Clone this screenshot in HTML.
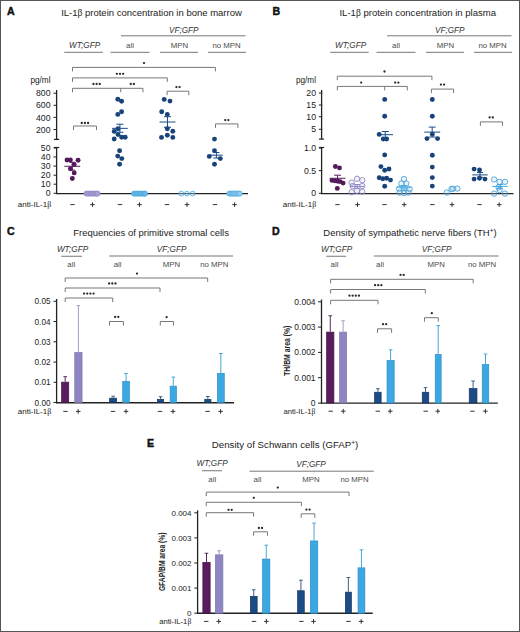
<!DOCTYPE html>
<html><head><meta charset="utf-8"><style>
html,body{margin:0;padding:0;background:#fff;}
.fig{position:relative;width:520px;height:632px;box-sizing:border-box;border:1px solid #555;overflow:hidden;background:#fff;}
svg{position:absolute;left:-1px;top:-1px;}
text{font-family:"Liberation Sans",sans-serif;}
</style></head><body><div class="fig">
<svg width="520" height="632" viewBox="0 0 520 632" shape-rendering="auto">
<text x="7.00" y="15.20" font-size="10.6" text-anchor="start" font-style="normal" font-weight="bold" fill="#111" stroke="#111" stroke-width="0.45">A</text>
<text x="151.50" y="16.00" font-size="9.5" text-anchor="middle" font-style="normal" font-weight="normal" fill="#222" >IL-1<tspan font-family='Liberation Serif'>β</tspan> protein concentration in bone marrow</text>
<text x="183.75" y="32.60" font-size="8.2" text-anchor="middle" font-style="italic" font-weight="normal" fill="#333" >VF;GFP</text>
<line x1="121.00" y1="35.80" x2="245.50" y2="35.80" stroke="#777" stroke-width="1"/>
<text x="84.60" y="48.40" font-size="8.2" text-anchor="middle" font-style="italic" font-weight="normal" fill="#333" >WT;GFP</text>
<text x="130.00" y="48.40" font-size="7.8" text-anchor="middle" font-style="normal" font-weight="normal" fill="#4a4a4a" >all</text>
<text x="179.40" y="48.40" font-size="7.8" text-anchor="middle" font-style="normal" font-weight="normal" fill="#4a4a4a" >MPN</text>
<text x="226.60" y="48.40" font-size="7.8" text-anchor="middle" font-style="normal" font-weight="normal" fill="#4a4a4a" >no MPN</text>
<line x1="64.20" y1="52.30" x2="102.70" y2="52.30" stroke="#777" stroke-width="1"/>
<line x1="110.50" y1="52.30" x2="149.50" y2="52.30" stroke="#777" stroke-width="1"/>
<line x1="160.00" y1="52.30" x2="198.00" y2="52.30" stroke="#777" stroke-width="1"/>
<line x1="208.00" y1="52.30" x2="246.00" y2="52.30" stroke="#777" stroke-width="1"/>
<text x="50.50" y="83.30" font-size="8.2" text-anchor="end" font-style="normal" font-weight="normal" fill="#222" >pg/ml</text>
<line x1="56.60" y1="90.00" x2="56.60" y2="139.40" stroke="#222" stroke-width="1.3"/>
<line x1="56.60" y1="147.40" x2="56.60" y2="193.90" stroke="#222" stroke-width="1.3"/>
<line x1="56.00" y1="193.60" x2="248.00" y2="193.60" stroke="#222" stroke-width="1.4"/>
<line x1="53.50" y1="93.25" x2="57.00" y2="93.25" stroke="#222" stroke-width="1"/>
<text x="50.50" y="96.35" font-size="8.7" text-anchor="end" font-style="normal" font-weight="normal" fill="#222" >800</text>
<line x1="53.50" y1="105.30" x2="57.00" y2="105.30" stroke="#222" stroke-width="1"/>
<text x="50.50" y="108.40" font-size="8.7" text-anchor="end" font-style="normal" font-weight="normal" fill="#222" >600</text>
<line x1="53.50" y1="117.40" x2="57.00" y2="117.40" stroke="#222" stroke-width="1"/>
<text x="50.50" y="120.50" font-size="8.7" text-anchor="end" font-style="normal" font-weight="normal" fill="#222" >400</text>
<line x1="53.50" y1="129.50" x2="57.00" y2="129.50" stroke="#222" stroke-width="1"/>
<text x="50.50" y="132.60" font-size="8.7" text-anchor="end" font-style="normal" font-weight="normal" fill="#222" >200</text>
<line x1="53.90" y1="139.40" x2="59.20" y2="139.40" stroke="#222" stroke-width="1.2"/>
<line x1="53.90" y1="147.50" x2="59.20" y2="147.50" stroke="#222" stroke-width="1.2"/>
<line x1="53.50" y1="148.00" x2="57.00" y2="148.00" stroke="#222" stroke-width="1"/>
<text x="50.50" y="151.10" font-size="8.7" text-anchor="end" font-style="normal" font-weight="normal" fill="#222" >50</text>
<line x1="53.50" y1="157.00" x2="57.00" y2="157.00" stroke="#222" stroke-width="1"/>
<text x="50.50" y="160.10" font-size="8.7" text-anchor="end" font-style="normal" font-weight="normal" fill="#222" >40</text>
<line x1="53.50" y1="166.10" x2="57.00" y2="166.10" stroke="#222" stroke-width="1"/>
<text x="50.50" y="169.20" font-size="8.7" text-anchor="end" font-style="normal" font-weight="normal" fill="#222" >30</text>
<line x1="53.50" y1="175.20" x2="57.00" y2="175.20" stroke="#222" stroke-width="1"/>
<text x="50.50" y="178.30" font-size="8.7" text-anchor="end" font-style="normal" font-weight="normal" fill="#222" >20</text>
<line x1="53.50" y1="184.20" x2="57.00" y2="184.20" stroke="#222" stroke-width="1"/>
<text x="50.50" y="187.30" font-size="8.7" text-anchor="end" font-style="normal" font-weight="normal" fill="#222" >10</text>
<line x1="53.50" y1="193.30" x2="57.00" y2="193.30" stroke="#222" stroke-width="1"/>
<text x="50.50" y="196.40" font-size="8.7" text-anchor="end" font-style="normal" font-weight="normal" fill="#222" >0</text>
<text x="51.30" y="207.10" font-size="8.0" text-anchor="end" font-style="normal" font-weight="normal" fill="#222" >anti-IL-1<tspan font-family='Liberation Serif'>β</tspan></text>
<line x1="70.30" y1="204.60" x2="74.70" y2="204.60" stroke="#333" stroke-width="1"/>
<line x1="117.80" y1="204.60" x2="122.20" y2="204.60" stroke="#333" stroke-width="1"/>
<line x1="164.80" y1="204.60" x2="169.20" y2="204.60" stroke="#333" stroke-width="1"/>
<line x1="212.80" y1="204.60" x2="217.20" y2="204.60" stroke="#333" stroke-width="1"/>
<path d="M90.20,204.60H94.80M92.50,202.30V206.90" stroke="#333" stroke-width="1" fill="none"/>
<path d="M137.20,204.60H141.80M139.50,202.30V206.90" stroke="#333" stroke-width="1" fill="none"/>
<path d="M184.70,204.60H189.30M187.00,202.30V206.90" stroke="#333" stroke-width="1" fill="none"/>
<path d="M232.30,204.60H236.90M234.60,202.30V206.90" stroke="#333" stroke-width="1" fill="none"/>
<path d="M72.50,71.40 V67.40 H215.40 V71.40" stroke="#777" stroke-width="1" fill="none"/>
<circle cx="144.00" cy="63.10" r="1.15" fill="#2a2a2a"/>
<path d="M72.50,81.90 V77.90 H167.30 V81.90" stroke="#777" stroke-width="1" fill="none"/>
<circle cx="116.85" cy="73.80" r="1.15" fill="#2a2a2a"/>
<circle cx="120.00" cy="73.80" r="1.15" fill="#2a2a2a"/>
<circle cx="123.15" cy="73.80" r="1.15" fill="#2a2a2a"/>
<path d="M72.50,92.30 V88.30 H143.00 V92.30" stroke="#777" stroke-width="1" fill="none"/>
<line x1="120.75" y1="88.30" x2="120.75" y2="92.30" stroke="#777" stroke-width="1"/>
<circle cx="93.45" cy="84.00" r="1.15" fill="#2a2a2a"/>
<circle cx="96.60" cy="84.00" r="1.15" fill="#2a2a2a"/>
<circle cx="99.75" cy="84.00" r="1.15" fill="#2a2a2a"/>
<circle cx="130.73" cy="84.00" r="1.15" fill="#2a2a2a"/>
<circle cx="133.88" cy="84.00" r="1.15" fill="#2a2a2a"/>
<path d="M73.50,130.00 V126.00 H96.50 V130.00" stroke="#777" stroke-width="1" fill="none"/>
<circle cx="81.75" cy="123.00" r="1.15" fill="#2a2a2a"/>
<circle cx="84.90" cy="123.00" r="1.15" fill="#2a2a2a"/>
<circle cx="88.05" cy="123.00" r="1.15" fill="#2a2a2a"/>
<path d="M167.10,95.20 V91.20 H188.80 V95.20" stroke="#777" stroke-width="1" fill="none"/>
<circle cx="176.43" cy="87.10" r="1.15" fill="#2a2a2a"/>
<circle cx="179.58" cy="87.10" r="1.15" fill="#2a2a2a"/>
<path d="M215.50,127.90 V123.90 H237.90 V127.90" stroke="#777" stroke-width="1" fill="none"/>
<circle cx="225.23" cy="120.10" r="1.15" fill="#2a2a2a"/>
<circle cx="228.38" cy="120.10" r="1.15" fill="#2a2a2a"/>
<circle cx="67.00" cy="160.00" r="2.45" fill="#54195a"/>
<circle cx="70.40" cy="160.00" r="2.45" fill="#54195a"/>
<circle cx="78.10" cy="160.20" r="2.45" fill="#54195a"/>
<circle cx="74.20" cy="164.50" r="2.45" fill="#54195a"/>
<circle cx="70.40" cy="168.80" r="2.45" fill="#54195a"/>
<circle cx="74.20" cy="172.90" r="2.45" fill="#54195a"/>
<circle cx="72.30" cy="178.50" r="2.45" fill="#54195a"/>
<line x1="64.30" y1="166.25" x2="80.20" y2="166.25" stroke="#5b1c5f" stroke-width="1"/>
<line x1="72.25" y1="162.30" x2="72.25" y2="170.20" stroke="#5b1c5f" stroke-width="1"/>
<line x1="69.25" y1="162.30" x2="75.25" y2="162.30" stroke="#5b1c5f" stroke-width="1"/>
<line x1="69.25" y1="170.20" x2="75.25" y2="170.20" stroke="#5b1c5f" stroke-width="1"/>
<circle cx="86.50" cy="193.60" r="2.6" fill="#a79fd3" stroke="#8a80c0" stroke-width="0.6"/>
<circle cx="88.50" cy="193.60" r="2.6" fill="#a79fd3" stroke="#8a80c0" stroke-width="0.6"/>
<circle cx="90.50" cy="193.60" r="2.6" fill="#a79fd3" stroke="#8a80c0" stroke-width="0.6"/>
<circle cx="92.50" cy="193.60" r="2.6" fill="#a79fd3" stroke="#8a80c0" stroke-width="0.6"/>
<circle cx="94.50" cy="193.60" r="2.6" fill="#a79fd3" stroke="#8a80c0" stroke-width="0.6"/>
<circle cx="96.50" cy="193.60" r="2.6" fill="#a79fd3" stroke="#8a80c0" stroke-width="0.6"/>
<circle cx="97.50" cy="193.60" r="2.6" fill="#a79fd3" stroke="#8a80c0" stroke-width="0.6"/>
<circle cx="117.80" cy="99.20" r="2.45" fill="#18437a"/>
<circle cx="121.60" cy="101.30" r="2.45" fill="#18437a"/>
<circle cx="121.60" cy="111.70" r="2.45" fill="#18437a"/>
<circle cx="117.80" cy="114.40" r="2.45" fill="#18437a"/>
<circle cx="118.00" cy="128.80" r="2.45" fill="#18437a"/>
<circle cx="114.20" cy="131.40" r="2.45" fill="#18437a"/>
<circle cx="118.00" cy="134.60" r="2.45" fill="#18437a"/>
<circle cx="121.70" cy="137.20" r="2.45" fill="#18437a"/>
<circle cx="125.20" cy="137.20" r="2.45" fill="#18437a"/>
<circle cx="114.20" cy="139.00" r="2.45" fill="#18437a"/>
<circle cx="119.60" cy="150.80" r="2.45" fill="#18437a"/>
<circle cx="117.70" cy="156.10" r="2.45" fill="#18437a"/>
<circle cx="121.80" cy="158.60" r="2.45" fill="#18437a"/>
<circle cx="119.60" cy="164.30" r="2.45" fill="#18437a"/>
<line x1="112.00" y1="128.35" x2="127.80" y2="128.35" stroke="#1b4c86" stroke-width="1"/>
<line x1="119.90" y1="124.20" x2="119.90" y2="132.30" stroke="#1b4c86" stroke-width="1"/>
<line x1="116.40" y1="124.20" x2="123.40" y2="124.20" stroke="#1b4c86" stroke-width="1"/>
<line x1="116.40" y1="132.30" x2="123.40" y2="132.30" stroke="#1b4c86" stroke-width="1"/>
<circle cx="134.00" cy="193.60" r="2.6" fill="#66b8e6" stroke="#3ba4dd" stroke-width="0.6"/>
<circle cx="136.00" cy="193.60" r="2.6" fill="#66b8e6" stroke="#3ba4dd" stroke-width="0.6"/>
<circle cx="138.00" cy="193.60" r="2.6" fill="#66b8e6" stroke="#3ba4dd" stroke-width="0.6"/>
<circle cx="140.00" cy="193.60" r="2.6" fill="#66b8e6" stroke="#3ba4dd" stroke-width="0.6"/>
<circle cx="142.00" cy="193.60" r="2.6" fill="#66b8e6" stroke="#3ba4dd" stroke-width="0.6"/>
<circle cx="144.00" cy="193.60" r="2.6" fill="#66b8e6" stroke="#3ba4dd" stroke-width="0.6"/>
<circle cx="145.00" cy="193.60" r="2.6" fill="#66b8e6" stroke="#3ba4dd" stroke-width="0.6"/>
<circle cx="164.20" cy="99.40" r="2.45" fill="#18437a"/>
<circle cx="170.00" cy="101.10" r="2.45" fill="#18437a"/>
<circle cx="161.70" cy="111.70" r="2.45" fill="#18437a"/>
<circle cx="167.30" cy="114.40" r="2.45" fill="#18437a"/>
<circle cx="167.30" cy="128.75" r="2.45" fill="#18437a"/>
<circle cx="172.80" cy="131.30" r="2.45" fill="#18437a"/>
<circle cx="167.30" cy="135.20" r="2.45" fill="#18437a"/>
<circle cx="161.50" cy="137.40" r="2.45" fill="#18437a"/>
<circle cx="172.80" cy="137.40" r="2.45" fill="#18437a"/>
<line x1="159.60" y1="122.00" x2="175.50" y2="122.00" stroke="#1b4c86" stroke-width="1"/>
<line x1="167.50" y1="116.70" x2="167.50" y2="127.30" stroke="#1b4c86" stroke-width="1"/>
<line x1="164.00" y1="116.70" x2="171.00" y2="116.70" stroke="#1b4c86" stroke-width="1"/>
<line x1="164.00" y1="127.30" x2="171.00" y2="127.30" stroke="#1b4c86" stroke-width="1"/>
<circle cx="181.30" cy="193.60" r="2.4" fill="rgba(200,230,250,0.35)" stroke="#3ca8e2" stroke-width="0.8"/>
<circle cx="186.90" cy="193.60" r="2.4" fill="rgba(200,230,250,0.35)" stroke="#3ca8e2" stroke-width="0.8"/>
<circle cx="192.70" cy="193.60" r="2.4" fill="rgba(200,230,250,0.35)" stroke="#3ca8e2" stroke-width="0.8"/>
<circle cx="214.50" cy="139.10" r="2.45" fill="#18437a"/>
<circle cx="214.50" cy="150.70" r="2.45" fill="#18437a"/>
<circle cx="209.30" cy="156.40" r="2.45" fill="#18437a"/>
<circle cx="220.30" cy="158.60" r="2.45" fill="#18437a"/>
<circle cx="214.50" cy="164.20" r="2.45" fill="#18437a"/>
<line x1="210.00" y1="155.20" x2="222.80" y2="155.20" stroke="#1b4c86" stroke-width="1"/>
<line x1="216.40" y1="152.50" x2="216.40" y2="158.00" stroke="#1b4c86" stroke-width="1"/>
<line x1="213.40" y1="152.50" x2="219.40" y2="152.50" stroke="#1b4c86" stroke-width="1"/>
<line x1="213.40" y1="158.00" x2="219.40" y2="158.00" stroke="#1b4c86" stroke-width="1"/>
<circle cx="229.30" cy="193.60" r="2.6" fill="#8fcdf0" stroke="#3d9ad6" stroke-width="0.5"/>
<circle cx="230.80" cy="193.60" r="2.6" fill="#8fcdf0" stroke="#3d9ad6" stroke-width="0.5"/>
<circle cx="232.30" cy="193.60" r="2.6" fill="#8fcdf0" stroke="#3d9ad6" stroke-width="0.5"/>
<circle cx="233.80" cy="193.60" r="2.6" fill="#8fcdf0" stroke="#3d9ad6" stroke-width="0.5"/>
<circle cx="235.30" cy="193.60" r="2.6" fill="#8fcdf0" stroke="#3d9ad6" stroke-width="0.5"/>
<circle cx="236.80" cy="193.60" r="2.6" fill="#8fcdf0" stroke="#3d9ad6" stroke-width="0.5"/>
<circle cx="238.30" cy="193.60" r="2.6" fill="#8fcdf0" stroke="#3d9ad6" stroke-width="0.5"/>
<circle cx="239.80" cy="193.60" r="2.6" fill="#8fcdf0" stroke="#3d9ad6" stroke-width="0.5"/>
<text x="272.50" y="15.20" font-size="10.6" text-anchor="start" font-style="normal" font-weight="bold" fill="#111" stroke="#111" stroke-width="0.45">B</text>
<text x="417.75" y="16.00" font-size="9.56" text-anchor="middle" font-style="normal" font-weight="normal" fill="#222" >IL-1<tspan font-family='Liberation Serif'>β</tspan> protein concentration in plasma</text>
<text x="449.75" y="32.60" font-size="8.2" text-anchor="middle" font-style="italic" font-weight="normal" fill="#333" >VF;GFP</text>
<line x1="387.00" y1="35.80" x2="511.50" y2="35.80" stroke="#777" stroke-width="1"/>
<text x="350.60" y="48.40" font-size="8.2" text-anchor="middle" font-style="italic" font-weight="normal" fill="#333" >WT;GFP</text>
<text x="396.00" y="48.40" font-size="7.8" text-anchor="middle" font-style="normal" font-weight="normal" fill="#4a4a4a" >all</text>
<text x="445.40" y="48.40" font-size="7.8" text-anchor="middle" font-style="normal" font-weight="normal" fill="#4a4a4a" >MPN</text>
<text x="492.60" y="48.40" font-size="7.8" text-anchor="middle" font-style="normal" font-weight="normal" fill="#4a4a4a" >no MPN</text>
<line x1="330.20" y1="52.30" x2="368.70" y2="52.30" stroke="#777" stroke-width="1"/>
<line x1="376.50" y1="52.30" x2="415.50" y2="52.30" stroke="#777" stroke-width="1"/>
<line x1="426.00" y1="52.30" x2="464.00" y2="52.30" stroke="#777" stroke-width="1"/>
<line x1="474.00" y1="52.30" x2="512.00" y2="52.30" stroke="#777" stroke-width="1"/>
<text x="316.00" y="83.30" font-size="8.2" text-anchor="end" font-style="normal" font-weight="normal" fill="#222" >pg/ml</text>
<line x1="321.60" y1="90.00" x2="321.60" y2="139.20" stroke="#222" stroke-width="1.3"/>
<line x1="321.60" y1="147.40" x2="321.60" y2="193.90" stroke="#222" stroke-width="1.3"/>
<line x1="321.00" y1="193.60" x2="513.50" y2="193.60" stroke="#222" stroke-width="1.4"/>
<line x1="318.80" y1="93.00" x2="322.30" y2="93.00" stroke="#222" stroke-width="1"/>
<text x="316.00" y="96.10" font-size="8.7" text-anchor="end" font-style="normal" font-weight="normal" fill="#222" >20</text>
<line x1="318.80" y1="105.00" x2="322.30" y2="105.00" stroke="#222" stroke-width="1"/>
<text x="316.00" y="108.10" font-size="8.7" text-anchor="end" font-style="normal" font-weight="normal" fill="#222" >15</text>
<line x1="318.80" y1="116.75" x2="322.30" y2="116.75" stroke="#222" stroke-width="1"/>
<text x="316.00" y="119.85" font-size="8.7" text-anchor="end" font-style="normal" font-weight="normal" fill="#222" >10</text>
<line x1="318.80" y1="129.25" x2="322.30" y2="129.25" stroke="#222" stroke-width="1"/>
<text x="316.00" y="132.35" font-size="8.7" text-anchor="end" font-style="normal" font-weight="normal" fill="#222" >5</text>
<line x1="319.00" y1="139.10" x2="324.10" y2="139.10" stroke="#222" stroke-width="1.2"/>
<line x1="319.00" y1="147.50" x2="324.10" y2="147.50" stroke="#222" stroke-width="1.2"/>
<line x1="318.80" y1="148.00" x2="322.30" y2="148.00" stroke="#222" stroke-width="1"/>
<text x="316.00" y="151.10" font-size="8.7" text-anchor="end" font-style="normal" font-weight="normal" fill="#222" >1.0</text>
<line x1="318.80" y1="170.60" x2="322.30" y2="170.60" stroke="#222" stroke-width="1"/>
<text x="316.00" y="173.70" font-size="8.7" text-anchor="end" font-style="normal" font-weight="normal" fill="#222" >0.5</text>
<line x1="318.80" y1="193.30" x2="322.30" y2="193.30" stroke="#222" stroke-width="1"/>
<text x="316.00" y="196.40" font-size="8.7" text-anchor="end" font-style="normal" font-weight="normal" fill="#222" >0</text>
<text x="316.30" y="207.10" font-size="8.0" text-anchor="end" font-style="normal" font-weight="normal" fill="#222" >anti-IL-1<tspan font-family='Liberation Serif'>β</tspan></text>
<line x1="335.30" y1="204.60" x2="339.70" y2="204.60" stroke="#333" stroke-width="1"/>
<line x1="382.30" y1="204.60" x2="386.70" y2="204.60" stroke="#333" stroke-width="1"/>
<line x1="430.10" y1="204.60" x2="434.50" y2="204.60" stroke="#333" stroke-width="1"/>
<line x1="477.30" y1="204.60" x2="481.70" y2="204.60" stroke="#333" stroke-width="1"/>
<path d="M355.20,204.60H359.80M357.50,202.30V206.90" stroke="#333" stroke-width="1" fill="none"/>
<path d="M401.90,204.60H406.50M404.20,202.30V206.90" stroke="#333" stroke-width="1" fill="none"/>
<path d="M449.70,204.60H454.30M452.00,202.30V206.90" stroke="#333" stroke-width="1" fill="none"/>
<path d="M496.90,204.60H501.50M499.20,202.30V206.90" stroke="#333" stroke-width="1" fill="none"/>
<path d="M337.30,80.20 V76.20 H431.90 V80.20" stroke="#777" stroke-width="1" fill="none"/>
<circle cx="384.50" cy="71.50" r="1.15" fill="#2a2a2a"/>
<path d="M337.30,90.40 V86.40 H407.30 V90.40" stroke="#777" stroke-width="1" fill="none"/>
<line x1="384.70" y1="86.40" x2="384.70" y2="90.40" stroke="#777" stroke-width="1"/>
<circle cx="361.20" cy="82.60" r="1.15" fill="#2a2a2a"/>
<circle cx="395.23" cy="82.60" r="1.15" fill="#2a2a2a"/>
<circle cx="398.38" cy="82.60" r="1.15" fill="#2a2a2a"/>
<path d="M431.40,93.10 V89.10 H453.60 V93.10" stroke="#777" stroke-width="1" fill="none"/>
<circle cx="440.93" cy="84.60" r="1.15" fill="#2a2a2a"/>
<circle cx="444.07" cy="84.60" r="1.15" fill="#2a2a2a"/>
<path d="M480.40,125.90 V121.90 H502.50 V125.90" stroke="#777" stroke-width="1" fill="none"/>
<circle cx="489.62" cy="117.40" r="1.15" fill="#2a2a2a"/>
<circle cx="492.77" cy="117.40" r="1.15" fill="#2a2a2a"/>
<circle cx="335.40" cy="166.50" r="2.45" fill="#54195a"/>
<circle cx="339.50" cy="167.90" r="2.45" fill="#54195a"/>
<circle cx="332.00" cy="180.40" r="2.45" fill="#54195a"/>
<circle cx="334.90" cy="180.70" r="2.45" fill="#54195a"/>
<circle cx="337.80" cy="181.20" r="2.45" fill="#54195a"/>
<circle cx="340.20" cy="181.60" r="2.45" fill="#54195a"/>
<circle cx="343.10" cy="183.10" r="2.45" fill="#54195a"/>
<circle cx="337.30" cy="188.40" r="2.45" fill="#54195a"/>
<line x1="329.60" y1="178.30" x2="345.50" y2="178.30" stroke="#5b1c5f" stroke-width="1"/>
<line x1="337.55" y1="175.20" x2="337.55" y2="181.40" stroke="#5b1c5f" stroke-width="1"/>
<line x1="334.05" y1="175.20" x2="341.05" y2="175.20" stroke="#5b1c5f" stroke-width="1"/>
<line x1="334.05" y1="181.40" x2="341.05" y2="181.40" stroke="#5b1c5f" stroke-width="1"/>
<circle cx="351.70" cy="182.60" r="2.7" fill="rgba(200,195,235,0.2)" stroke="#8a84c2" stroke-width="0.85"/>
<circle cx="357.00" cy="178.75" r="2.7" fill="rgba(200,195,235,0.2)" stroke="#8a84c2" stroke-width="0.85"/>
<circle cx="362.30" cy="180.20" r="2.7" fill="rgba(200,195,235,0.2)" stroke="#8a84c2" stroke-width="0.85"/>
<circle cx="352.70" cy="186.00" r="2.7" fill="rgba(200,195,235,0.2)" stroke="#8a84c2" stroke-width="0.85"/>
<circle cx="362.30" cy="186.00" r="2.7" fill="rgba(200,195,235,0.2)" stroke="#8a84c2" stroke-width="0.85"/>
<circle cx="357.00" cy="190.80" r="2.7" fill="rgba(200,195,235,0.2)" stroke="#8a84c2" stroke-width="0.85"/>
<circle cx="351.70" cy="192.20" r="2.7" fill="rgba(200,195,235,0.2)" stroke="#8a84c2" stroke-width="0.85"/>
<circle cx="362.30" cy="191.70" r="2.7" fill="rgba(200,195,235,0.2)" stroke="#8a84c2" stroke-width="0.85"/>
<line x1="350.00" y1="186.40" x2="364.50" y2="186.40" stroke="#8e86c4" stroke-width="1"/>
<line x1="357.25" y1="184.50" x2="357.25" y2="188.30" stroke="#8e86c4" stroke-width="1"/>
<line x1="354.25" y1="184.50" x2="360.25" y2="184.50" stroke="#8e86c4" stroke-width="1"/>
<line x1="354.25" y1="188.30" x2="360.25" y2="188.30" stroke="#8e86c4" stroke-width="1"/>
<circle cx="384.70" cy="99.40" r="2.45" fill="#18437a"/>
<circle cx="384.70" cy="116.20" r="2.45" fill="#18437a"/>
<circle cx="379.20" cy="134.40" r="2.45" fill="#18437a"/>
<circle cx="383.30" cy="139.00" r="2.45" fill="#18437a"/>
<circle cx="386.60" cy="139.00" r="2.45" fill="#18437a"/>
<circle cx="384.70" cy="154.90" r="2.45" fill="#18437a"/>
<circle cx="380.90" cy="166.60" r="2.45" fill="#18437a"/>
<circle cx="384.70" cy="170.20" r="2.45" fill="#18437a"/>
<circle cx="389.00" cy="169.00" r="2.45" fill="#18437a"/>
<circle cx="379.20" cy="177.70" r="2.45" fill="#18437a"/>
<circle cx="382.80" cy="178.80" r="2.45" fill="#18437a"/>
<circle cx="386.60" cy="178.20" r="2.45" fill="#18437a"/>
<circle cx="390.50" cy="180.10" r="2.45" fill="#18437a"/>
<circle cx="384.70" cy="186.30" r="2.45" fill="#18437a"/>
<line x1="377.50" y1="134.70" x2="393.00" y2="134.70" stroke="#1b4c86" stroke-width="1"/>
<line x1="385.25" y1="131.50" x2="385.25" y2="137.90" stroke="#1b4c86" stroke-width="1"/>
<line x1="381.75" y1="131.50" x2="388.75" y2="131.50" stroke="#1b4c86" stroke-width="1"/>
<line x1="381.75" y1="137.90" x2="388.75" y2="137.90" stroke="#1b4c86" stroke-width="1"/>
<circle cx="403.90" cy="179.10" r="2.7" fill="rgba(150,210,245,0.22)" stroke="#4a9dd2" stroke-width="0.85"/>
<circle cx="401.50" cy="183.50" r="2.7" fill="rgba(150,210,245,0.22)" stroke="#4a9dd2" stroke-width="0.85"/>
<circle cx="406.30" cy="183.50" r="2.7" fill="rgba(150,210,245,0.22)" stroke="#4a9dd2" stroke-width="0.85"/>
<circle cx="399.10" cy="188.75" r="2.7" fill="rgba(150,210,245,0.22)" stroke="#4a9dd2" stroke-width="0.85"/>
<circle cx="403.90" cy="188.30" r="2.7" fill="rgba(150,210,245,0.22)" stroke="#4a9dd2" stroke-width="0.85"/>
<circle cx="409.70" cy="189.20" r="2.7" fill="rgba(150,210,245,0.22)" stroke="#4a9dd2" stroke-width="0.85"/>
<circle cx="399.60" cy="192.60" r="2.7" fill="rgba(150,210,245,0.22)" stroke="#4a9dd2" stroke-width="0.85"/>
<circle cx="403.90" cy="193.10" r="2.7" fill="rgba(150,210,245,0.22)" stroke="#4a9dd2" stroke-width="0.85"/>
<circle cx="408.30" cy="192.60" r="2.7" fill="rgba(150,210,245,0.22)" stroke="#4a9dd2" stroke-width="0.85"/>
<line x1="397.00" y1="187.20" x2="411.00" y2="187.20" stroke="#3ca8e2" stroke-width="1"/>
<line x1="404.00" y1="185.50" x2="404.00" y2="189.00" stroke="#3ca8e2" stroke-width="1"/>
<line x1="401.00" y1="185.50" x2="407.00" y2="185.50" stroke="#3ca8e2" stroke-width="1"/>
<line x1="401.00" y1="189.00" x2="407.00" y2="189.00" stroke="#3ca8e2" stroke-width="1"/>
<circle cx="432.30" cy="99.50" r="2.45" fill="#18437a"/>
<circle cx="432.30" cy="116.30" r="2.45" fill="#18437a"/>
<circle cx="432.30" cy="134.25" r="2.45" fill="#18437a"/>
<circle cx="427.00" cy="138.60" r="2.45" fill="#18437a"/>
<circle cx="437.60" cy="138.60" r="2.45" fill="#18437a"/>
<circle cx="432.30" cy="155.20" r="2.45" fill="#18437a"/>
<circle cx="432.30" cy="167.10" r="2.45" fill="#18437a"/>
<circle cx="432.30" cy="177.60" r="2.45" fill="#18437a"/>
<circle cx="432.30" cy="186.10" r="2.45" fill="#18437a"/>
<line x1="424.20" y1="132.10" x2="440.20" y2="132.10" stroke="#1b4c86" stroke-width="1"/>
<line x1="432.20" y1="127.10" x2="432.20" y2="137.00" stroke="#1b4c86" stroke-width="1"/>
<line x1="428.70" y1="127.10" x2="435.70" y2="127.10" stroke="#1b4c86" stroke-width="1"/>
<line x1="428.70" y1="137.00" x2="435.70" y2="137.00" stroke="#1b4c86" stroke-width="1"/>
<circle cx="446.80" cy="192.60" r="2.7" fill="rgba(150,210,245,0.22)" stroke="#4a9dd2" stroke-width="0.85"/>
<circle cx="451.50" cy="189.00" r="2.7" fill="rgba(150,210,245,0.22)" stroke="#4a9dd2" stroke-width="0.85"/>
<circle cx="453.10" cy="188.70" r="2.7" fill="rgba(150,210,245,0.22)" stroke="#4a9dd2" stroke-width="0.85"/>
<circle cx="457.40" cy="188.50" r="2.7" fill="rgba(150,210,245,0.22)" stroke="#4a9dd2" stroke-width="0.85"/>
<circle cx="474.10" cy="169.10" r="2.45" fill="#18437a"/>
<circle cx="479.50" cy="170.00" r="2.45" fill="#18437a"/>
<circle cx="474.10" cy="179.10" r="2.45" fill="#18437a"/>
<circle cx="479.50" cy="178.20" r="2.45" fill="#18437a"/>
<circle cx="485.00" cy="179.10" r="2.45" fill="#18437a"/>
<line x1="472.30" y1="174.90" x2="487.70" y2="174.90" stroke="#1b4c86" stroke-width="1"/>
<line x1="480.00" y1="172.50" x2="480.00" y2="177.30" stroke="#1b4c86" stroke-width="1"/>
<line x1="477.00" y1="172.50" x2="483.00" y2="172.50" stroke="#1b4c86" stroke-width="1"/>
<line x1="477.00" y1="177.30" x2="483.00" y2="177.30" stroke="#1b4c86" stroke-width="1"/>
<circle cx="494.10" cy="179.50" r="2.7" fill="rgba(150,210,245,0.22)" stroke="#4a9dd2" stroke-width="0.85"/>
<circle cx="499.50" cy="181.80" r="2.7" fill="rgba(150,210,245,0.22)" stroke="#4a9dd2" stroke-width="0.85"/>
<circle cx="505.00" cy="181.80" r="2.7" fill="rgba(150,210,245,0.22)" stroke="#4a9dd2" stroke-width="0.85"/>
<circle cx="498.60" cy="187.30" r="2.7" fill="rgba(150,210,245,0.22)" stroke="#4a9dd2" stroke-width="0.85"/>
<circle cx="494.10" cy="193.60" r="2.7" fill="rgba(150,210,245,0.22)" stroke="#4a9dd2" stroke-width="0.85"/>
<circle cx="505.00" cy="193.60" r="2.7" fill="rgba(150,210,245,0.22)" stroke="#4a9dd2" stroke-width="0.85"/>
<circle cx="499.50" cy="190.00" r="2.7" fill="rgba(150,210,245,0.22)" stroke="#4a9dd2" stroke-width="0.85"/>
<line x1="492.30" y1="186.40" x2="507.70" y2="186.40" stroke="#3ca8e2" stroke-width="1"/>
<line x1="500.00" y1="184.50" x2="500.00" y2="188.30" stroke="#3ca8e2" stroke-width="1"/>
<line x1="497.00" y1="184.50" x2="503.00" y2="184.50" stroke="#3ca8e2" stroke-width="1"/>
<line x1="497.00" y1="188.30" x2="503.00" y2="188.30" stroke="#3ca8e2" stroke-width="1"/>
<text x="7.00" y="234.80" font-size="10.6" text-anchor="start" font-style="normal" font-weight="bold" fill="#111" stroke="#111" stroke-width="0.45">C</text>
<text x="151.10" y="235.50" font-size="9.47" text-anchor="middle" font-style="normal" font-weight="normal" fill="#222" >Frequencies of primitive stromal cells</text>
<text x="72.50" y="251.60" font-size="8.2" text-anchor="middle" font-style="italic" font-weight="normal" fill="#333" >WT;GFP</text>
<line x1="61.25" y1="256.25" x2="82.00" y2="256.25" stroke="#777" stroke-width="1"/>
<text x="171.65" y="251.60" font-size="8.2" text-anchor="middle" font-style="italic" font-weight="normal" fill="#333" >VF;GFP</text>
<line x1="109.20" y1="256.00" x2="233.20" y2="256.00" stroke="#777" stroke-width="1"/>
<text x="71.25" y="267.00" font-size="7.8" text-anchor="middle" font-style="normal" font-weight="normal" fill="#4a4a4a" >all</text>
<text x="117.70" y="267.00" font-size="7.8" text-anchor="middle" font-style="normal" font-weight="normal" fill="#4a4a4a" >all</text>
<text x="171.50" y="267.00" font-size="7.8" text-anchor="middle" font-style="normal" font-weight="normal" fill="#4a4a4a" >MPN</text>
<text x="214.30" y="267.00" font-size="7.8" text-anchor="middle" font-style="normal" font-weight="normal" fill="#4a4a4a" >no MPN</text>
<line x1="56.60" y1="299.00" x2="56.60" y2="403.30" stroke="#222" stroke-width="1.3"/>
<line x1="56.00" y1="402.80" x2="234.00" y2="402.80" stroke="#222" stroke-width="1.4"/>
<line x1="53.50" y1="301.30" x2="57.00" y2="301.30" stroke="#222" stroke-width="1"/>
<text x="50.50" y="304.30" font-size="8.2" text-anchor="end" font-style="normal" font-weight="normal" fill="#222" >0.05</text>
<line x1="53.50" y1="321.50" x2="57.00" y2="321.50" stroke="#222" stroke-width="1"/>
<text x="50.50" y="324.50" font-size="8.2" text-anchor="end" font-style="normal" font-weight="normal" fill="#222" >0.04</text>
<line x1="53.50" y1="341.80" x2="57.00" y2="341.80" stroke="#222" stroke-width="1"/>
<text x="50.50" y="344.80" font-size="8.2" text-anchor="end" font-style="normal" font-weight="normal" fill="#222" >0.03</text>
<line x1="53.50" y1="362.10" x2="57.00" y2="362.10" stroke="#222" stroke-width="1"/>
<text x="50.50" y="365.10" font-size="8.2" text-anchor="end" font-style="normal" font-weight="normal" fill="#222" >0.02</text>
<line x1="53.50" y1="382.30" x2="57.00" y2="382.30" stroke="#222" stroke-width="1"/>
<text x="50.50" y="385.30" font-size="8.2" text-anchor="end" font-style="normal" font-weight="normal" fill="#222" >0.01</text>
<line x1="53.50" y1="402.50" x2="57.00" y2="402.50" stroke="#222" stroke-width="1"/>
<text x="50.50" y="405.50" font-size="8.2" text-anchor="end" font-style="normal" font-weight="normal" fill="#222" >0.00</text>
<text x="51.30" y="413.80" font-size="8.0" text-anchor="end" font-style="normal" font-weight="normal" fill="#222" >anti-IL-1<tspan font-family='Liberation Serif'>β</tspan></text>
<line x1="63.30" y1="411.40" x2="67.70" y2="411.40" stroke="#333" stroke-width="1"/>
<line x1="110.80" y1="411.40" x2="115.20" y2="411.40" stroke="#333" stroke-width="1"/>
<line x1="157.80" y1="411.40" x2="162.20" y2="411.40" stroke="#333" stroke-width="1"/>
<line x1="205.40" y1="411.40" x2="209.80" y2="411.40" stroke="#333" stroke-width="1"/>
<path d="M75.90,411.40H80.50M78.20,409.10V413.70" stroke="#333" stroke-width="1" fill="none"/>
<path d="M123.70,411.40H128.30M126.00,409.10V413.70" stroke="#333" stroke-width="1" fill="none"/>
<path d="M170.70,411.40H175.30M173.00,409.10V413.70" stroke="#333" stroke-width="1" fill="none"/>
<path d="M218.30,411.40H222.90M220.60,409.10V413.70" stroke="#333" stroke-width="1" fill="none"/>
<path d="M65.20,282.00 V278.00 H207.70 V282.00" stroke="#777" stroke-width="1" fill="none"/>
<circle cx="137.00" cy="273.60" r="1.15" fill="#2a2a2a"/>
<path d="M65.20,292.00 V288.00 H160.00 V292.00" stroke="#777" stroke-width="1" fill="none"/>
<circle cx="109.15" cy="283.50" r="1.15" fill="#2a2a2a"/>
<circle cx="112.30" cy="283.50" r="1.15" fill="#2a2a2a"/>
<circle cx="115.45" cy="283.50" r="1.15" fill="#2a2a2a"/>
<path d="M65.20,302.00 V298.00 H112.70 V302.00" stroke="#777" stroke-width="1" fill="none"/>
<circle cx="84.08" cy="293.60" r="1.15" fill="#2a2a2a"/>
<circle cx="87.23" cy="293.60" r="1.15" fill="#2a2a2a"/>
<circle cx="90.38" cy="293.60" r="1.15" fill="#2a2a2a"/>
<circle cx="93.53" cy="293.60" r="1.15" fill="#2a2a2a"/>
<path d="M109.50,325.50 V321.50 H123.40 V325.50" stroke="#777" stroke-width="1" fill="none"/>
<circle cx="115.12" cy="316.90" r="1.15" fill="#2a2a2a"/>
<circle cx="118.28" cy="316.90" r="1.15" fill="#2a2a2a"/>
<path d="M160.30,325.50 V321.50 H173.50 V325.50" stroke="#777" stroke-width="1" fill="none"/>
<circle cx="166.60" cy="317.20" r="1.15" fill="#2a2a2a"/>
<line x1="65.17" y1="376.70" x2="65.17" y2="381.80" stroke="#56275b" stroke-width="1"/>
<line x1="63.38" y1="376.70" x2="66.97" y2="376.70" stroke="#56275b" stroke-width="1"/>
<rect x="61.60" y="382.15" width="7.15" height="20.35" fill="#5b1c5f" stroke="#3f1846" stroke-width="0.7"/>
<line x1="78.40" y1="305.60" x2="78.40" y2="352.20" stroke="#a29ecb" stroke-width="1"/>
<line x1="76.60" y1="305.60" x2="80.20" y2="305.60" stroke="#a29ecb" stroke-width="1"/>
<rect x="74.75" y="352.55" width="7.30" height="49.95" fill="#8e86c4" stroke="#7d7aa6" stroke-width="0.7"/>
<line x1="113.10" y1="396.20" x2="113.10" y2="397.80" stroke="#3f5f88" stroke-width="1"/>
<line x1="111.30" y1="396.20" x2="114.90" y2="396.20" stroke="#3f5f88" stroke-width="1"/>
<rect x="109.65" y="398.15" width="6.90" height="4.35" fill="#1b4c86" stroke="#12345f" stroke-width="0.7"/>
<line x1="126.05" y1="373.50" x2="126.05" y2="381.00" stroke="#45a6dc" stroke-width="1"/>
<line x1="124.25" y1="373.50" x2="127.85" y2="373.50" stroke="#45a6dc" stroke-width="1"/>
<rect x="122.75" y="381.35" width="6.60" height="21.15" fill="#3ca8e2" stroke="#2e8cc4" stroke-width="0.7"/>
<line x1="160.55" y1="396.70" x2="160.55" y2="399.00" stroke="#3f5f88" stroke-width="1"/>
<line x1="158.75" y1="396.70" x2="162.35" y2="396.70" stroke="#3f5f88" stroke-width="1"/>
<rect x="157.45" y="399.35" width="6.20" height="3.15" fill="#1b4c86" stroke="#12345f" stroke-width="0.7"/>
<line x1="173.25" y1="377.10" x2="173.25" y2="385.80" stroke="#45a6dc" stroke-width="1"/>
<line x1="171.45" y1="377.10" x2="175.05" y2="377.10" stroke="#45a6dc" stroke-width="1"/>
<rect x="170.15" y="386.15" width="6.20" height="16.35" fill="#3ca8e2" stroke="#2e8cc4" stroke-width="0.7"/>
<line x1="207.85" y1="396.50" x2="207.85" y2="399.00" stroke="#3f5f88" stroke-width="1"/>
<line x1="206.05" y1="396.50" x2="209.65" y2="396.50" stroke="#3f5f88" stroke-width="1"/>
<rect x="204.75" y="399.35" width="6.20" height="3.15" fill="#1b4c86" stroke="#12345f" stroke-width="0.7"/>
<line x1="220.85" y1="353.50" x2="220.85" y2="373.00" stroke="#45a6dc" stroke-width="1"/>
<line x1="219.05" y1="353.50" x2="222.65" y2="353.50" stroke="#45a6dc" stroke-width="1"/>
<rect x="217.45" y="373.35" width="6.80" height="29.15" fill="#3ca8e2" stroke="#2e8cc4" stroke-width="0.7"/>
<text x="272.00" y="234.80" font-size="10.6" text-anchor="start" font-style="normal" font-weight="bold" fill="#111" stroke="#111" stroke-width="0.45">D</text>
<text x="410.00" y="235.50" font-size="9.5" text-anchor="middle" font-style="normal" font-weight="normal" fill="#222" >Density of sympathetic nerve fibers (TH<tspan dy='-3' font-size='6.5'>+</tspan><tspan dy='3'>)</tspan></text>
<text x="336.60" y="251.60" font-size="8.2" text-anchor="middle" font-style="italic" font-weight="normal" fill="#333" >WT;GFP</text>
<line x1="326.25" y1="256.25" x2="346.25" y2="256.25" stroke="#777" stroke-width="1"/>
<text x="436.65" y="251.60" font-size="8.2" text-anchor="middle" font-style="italic" font-weight="normal" fill="#333" >VF;GFP</text>
<line x1="373.80" y1="256.00" x2="498.50" y2="256.00" stroke="#777" stroke-width="1"/>
<text x="334.50" y="267.00" font-size="7.8" text-anchor="middle" font-style="normal" font-weight="normal" fill="#4a4a4a" >all</text>
<text x="380.00" y="267.00" font-size="7.8" text-anchor="middle" font-style="normal" font-weight="normal" fill="#4a4a4a" >all</text>
<text x="436.20" y="267.00" font-size="7.8" text-anchor="middle" font-style="normal" font-weight="normal" fill="#4a4a4a" >MPN</text>
<text x="482.00" y="267.00" font-size="7.8" text-anchor="middle" font-style="normal" font-weight="normal" fill="#4a4a4a" >no MPN</text>
<line x1="321.50" y1="299.50" x2="321.50" y2="403.70" stroke="#222" stroke-width="1.3"/>
<line x1="320.90" y1="403.10" x2="497.80" y2="403.10" stroke="#222" stroke-width="1.4"/>
<line x1="318.00" y1="301.80" x2="321.50" y2="301.80" stroke="#222" stroke-width="1"/>
<text x="315.60" y="304.80" font-size="8.5" text-anchor="end" font-style="normal" font-weight="normal" fill="#222" >0.004</text>
<line x1="318.00" y1="327.10" x2="321.50" y2="327.10" stroke="#222" stroke-width="1"/>
<text x="315.60" y="330.10" font-size="8.5" text-anchor="end" font-style="normal" font-weight="normal" fill="#222" >0.003</text>
<line x1="318.00" y1="352.40" x2="321.50" y2="352.40" stroke="#222" stroke-width="1"/>
<text x="315.60" y="355.40" font-size="8.5" text-anchor="end" font-style="normal" font-weight="normal" fill="#222" >0.002</text>
<line x1="318.00" y1="377.70" x2="321.50" y2="377.70" stroke="#222" stroke-width="1"/>
<text x="315.60" y="380.70" font-size="8.5" text-anchor="end" font-style="normal" font-weight="normal" fill="#222" >0.001</text>
<line x1="318.00" y1="403.10" x2="321.50" y2="403.10" stroke="#222" stroke-width="1"/>
<text x="315.60" y="406.10" font-size="8.5" text-anchor="end" font-style="normal" font-weight="normal" fill="#222" >0</text>
<text x="0" y="0" font-size="8.8" font-weight="bold" text-anchor="middle" fill="#222" textLength="59" lengthAdjust="spacingAndGlyphs" transform="translate(289.7 350.8) rotate(-90) scale(0.85 1)">TH/BM area (%)</text>
<text x="315.50" y="413.80" font-size="7.7" text-anchor="end" font-style="normal" font-weight="normal" fill="#222" >anti-IL-1<tspan font-family='Liberation Serif'>β</tspan></text>
<line x1="328.55" y1="411.20" x2="332.95" y2="411.20" stroke="#333" stroke-width="1"/>
<line x1="375.60" y1="411.20" x2="380.00" y2="411.20" stroke="#333" stroke-width="1"/>
<line x1="423.50" y1="411.20" x2="427.90" y2="411.20" stroke="#333" stroke-width="1"/>
<line x1="470.20" y1="411.20" x2="474.60" y2="411.20" stroke="#333" stroke-width="1"/>
<path d="M340.95,411.20H345.55M343.25,408.90V413.50" stroke="#333" stroke-width="1" fill="none"/>
<path d="M387.90,411.20H392.50M390.20,408.90V413.50" stroke="#333" stroke-width="1" fill="none"/>
<path d="M435.50,411.20H440.10M437.80,408.90V413.50" stroke="#333" stroke-width="1" fill="none"/>
<path d="M483.10,411.20H487.70M485.40,408.90V413.50" stroke="#333" stroke-width="1" fill="none"/>
<path d="M330.60,283.30 V279.30 H473.20 V283.30" stroke="#777" stroke-width="1" fill="none"/>
<circle cx="400.53" cy="274.90" r="1.15" fill="#2a2a2a"/>
<circle cx="403.68" cy="274.90" r="1.15" fill="#2a2a2a"/>
<path d="M330.60,293.50 V289.50 H425.30 V293.50" stroke="#777" stroke-width="1" fill="none"/>
<circle cx="375.05" cy="285.20" r="1.15" fill="#2a2a2a"/>
<circle cx="378.20" cy="285.20" r="1.15" fill="#2a2a2a"/>
<circle cx="381.35" cy="285.20" r="1.15" fill="#2a2a2a"/>
<path d="M330.60,304.30 V300.30 H378.00 V304.30" stroke="#777" stroke-width="1" fill="none"/>
<circle cx="349.47" cy="295.70" r="1.15" fill="#2a2a2a"/>
<circle cx="352.62" cy="295.70" r="1.15" fill="#2a2a2a"/>
<circle cx="355.77" cy="295.70" r="1.15" fill="#2a2a2a"/>
<circle cx="358.92" cy="295.70" r="1.15" fill="#2a2a2a"/>
<path d="M377.50,332.80 V328.80 H391.60 V332.80" stroke="#777" stroke-width="1" fill="none"/>
<circle cx="383.03" cy="324.20" r="1.15" fill="#2a2a2a"/>
<circle cx="386.18" cy="324.20" r="1.15" fill="#2a2a2a"/>
<path d="M424.50,321.70 V317.70 H438.30 V321.70" stroke="#777" stroke-width="1" fill="none"/>
<circle cx="431.80" cy="313.20" r="1.15" fill="#2a2a2a"/>
<line x1="330.25" y1="315.75" x2="330.25" y2="331.75" stroke="#56275b" stroke-width="1"/>
<line x1="328.45" y1="315.75" x2="332.05" y2="315.75" stroke="#56275b" stroke-width="1"/>
<rect x="326.60" y="332.10" width="7.30" height="70.90" fill="#5b1c5f" stroke="#3f1846" stroke-width="0.7"/>
<line x1="343.12" y1="320.75" x2="343.12" y2="331.75" stroke="#a29ecb" stroke-width="1"/>
<line x1="341.32" y1="320.75" x2="344.93" y2="320.75" stroke="#a29ecb" stroke-width="1"/>
<rect x="339.60" y="332.10" width="7.05" height="70.90" fill="#8e86c4" stroke="#7d7aa6" stroke-width="0.7"/>
<line x1="377.90" y1="388.70" x2="377.90" y2="391.90" stroke="#3f5f88" stroke-width="1"/>
<line x1="376.10" y1="388.70" x2="379.70" y2="388.70" stroke="#3f5f88" stroke-width="1"/>
<rect x="374.65" y="392.25" width="6.50" height="10.75" fill="#1b4c86" stroke="#12345f" stroke-width="0.7"/>
<line x1="390.60" y1="349.80" x2="390.60" y2="360.20" stroke="#45a6dc" stroke-width="1"/>
<line x1="388.80" y1="349.80" x2="392.40" y2="349.80" stroke="#45a6dc" stroke-width="1"/>
<rect x="387.05" y="360.55" width="7.10" height="42.45" fill="#3ca8e2" stroke="#2e8cc4" stroke-width="0.7"/>
<line x1="425.50" y1="387.60" x2="425.50" y2="391.90" stroke="#3f5f88" stroke-width="1"/>
<line x1="423.70" y1="387.60" x2="427.30" y2="387.60" stroke="#3f5f88" stroke-width="1"/>
<rect x="422.25" y="392.25" width="6.50" height="10.75" fill="#1b4c86" stroke="#12345f" stroke-width="0.7"/>
<line x1="438.20" y1="325.60" x2="438.20" y2="354.10" stroke="#45a6dc" stroke-width="1"/>
<line x1="436.40" y1="325.60" x2="440.00" y2="325.60" stroke="#45a6dc" stroke-width="1"/>
<rect x="435.25" y="354.45" width="5.90" height="48.55" fill="#3ca8e2" stroke="#2e8cc4" stroke-width="0.7"/>
<line x1="473.10" y1="381.00" x2="473.10" y2="388.20" stroke="#3f5f88" stroke-width="1"/>
<line x1="471.30" y1="381.00" x2="474.90" y2="381.00" stroke="#3f5f88" stroke-width="1"/>
<rect x="469.25" y="388.55" width="7.70" height="14.45" fill="#1b4c86" stroke="#12345f" stroke-width="0.7"/>
<line x1="485.50" y1="354.10" x2="485.50" y2="364.20" stroke="#45a6dc" stroke-width="1"/>
<line x1="483.70" y1="354.10" x2="487.30" y2="354.10" stroke="#45a6dc" stroke-width="1"/>
<rect x="482.25" y="364.55" width="6.50" height="38.45" fill="#3ca8e2" stroke="#2e8cc4" stroke-width="0.7"/>
<text x="147.00" y="446.90" font-size="10.6" text-anchor="start" font-style="normal" font-weight="bold" fill="#111" stroke="#111" stroke-width="0.45">E</text>
<text x="285.10" y="447.80" font-size="9.7" text-anchor="middle" font-style="normal" font-weight="normal" fill="#222" >Density of Schwann cells (GFAP<tspan dy='-3' font-size='6.5'>+</tspan><tspan dy='3'>)</tspan></text>
<text x="212.10" y="466.30" font-size="8.2" text-anchor="middle" font-style="italic" font-weight="normal" fill="#333" >WT;GFP</text>
<line x1="202.00" y1="470.75" x2="222.00" y2="470.75" stroke="#777" stroke-width="1"/>
<text x="311.00" y="466.50" font-size="8.2" text-anchor="middle" font-style="italic" font-weight="normal" fill="#333" >VF;GFP</text>
<line x1="249.50" y1="471.20" x2="373.70" y2="471.20" stroke="#777" stroke-width="1"/>
<text x="212.25" y="481.80" font-size="7.8" text-anchor="middle" font-style="normal" font-weight="normal" fill="#4a4a4a" >all</text>
<text x="257.50" y="481.80" font-size="7.8" text-anchor="middle" font-style="normal" font-weight="normal" fill="#4a4a4a" >all</text>
<text x="311.00" y="481.80" font-size="7.8" text-anchor="middle" font-style="normal" font-weight="normal" fill="#4a4a4a" >MPN</text>
<text x="354.50" y="481.80" font-size="7.8" text-anchor="middle" font-style="normal" font-weight="normal" fill="#4a4a4a" >no MPN</text>
<line x1="197.60" y1="510.30" x2="197.60" y2="613.80" stroke="#222" stroke-width="1.3"/>
<line x1="197.00" y1="613.20" x2="372.70" y2="613.20" stroke="#222" stroke-width="1.4"/>
<line x1="194.30" y1="512.80" x2="197.80" y2="512.80" stroke="#222" stroke-width="1"/>
<text x="191.50" y="515.80" font-size="8" text-anchor="end" font-style="normal" font-weight="normal" fill="#222" >0.004</text>
<line x1="194.30" y1="537.90" x2="197.80" y2="537.90" stroke="#222" stroke-width="1"/>
<text x="191.50" y="540.90" font-size="8" text-anchor="end" font-style="normal" font-weight="normal" fill="#222" >0.003</text>
<line x1="194.30" y1="563.00" x2="197.80" y2="563.00" stroke="#222" stroke-width="1"/>
<text x="191.50" y="566.00" font-size="8" text-anchor="end" font-style="normal" font-weight="normal" fill="#222" >0.002</text>
<line x1="194.30" y1="588.10" x2="197.80" y2="588.10" stroke="#222" stroke-width="1"/>
<text x="191.50" y="591.10" font-size="8" text-anchor="end" font-style="normal" font-weight="normal" fill="#222" >0.001</text>
<line x1="194.30" y1="613.20" x2="197.80" y2="613.20" stroke="#222" stroke-width="1"/>
<text x="191.50" y="616.20" font-size="8" text-anchor="end" font-style="normal" font-weight="normal" fill="#222" >0</text>
<text x="0" y="0" font-size="8.8" font-weight="bold" text-anchor="middle" fill="#222" textLength="69" lengthAdjust="spacingAndGlyphs" transform="translate(165.0 561.8) rotate(-90) scale(0.85 1)">GFAP/BM area (%)</text>
<text x="191.30" y="623.60" font-size="7.7" text-anchor="end" font-style="normal" font-weight="normal" fill="#222" >anti-IL-1<tspan font-family='Liberation Serif'>β</tspan></text>
<line x1="204.05" y1="621.40" x2="208.45" y2="621.40" stroke="#333" stroke-width="1"/>
<line x1="251.80" y1="621.40" x2="256.20" y2="621.40" stroke="#333" stroke-width="1"/>
<line x1="299.20" y1="621.40" x2="303.60" y2="621.40" stroke="#333" stroke-width="1"/>
<line x1="346.30" y1="621.40" x2="350.70" y2="621.40" stroke="#333" stroke-width="1"/>
<path d="M216.45,621.40H221.05M218.75,619.10V623.70" stroke="#333" stroke-width="1" fill="none"/>
<path d="M264.10,621.40H268.70M266.40,619.10V623.70" stroke="#333" stroke-width="1" fill="none"/>
<path d="M311.20,621.40H315.80M313.50,619.10V623.70" stroke="#333" stroke-width="1" fill="none"/>
<path d="M358.90,621.40H363.50M361.20,619.10V623.70" stroke="#333" stroke-width="1" fill="none"/>
<path d="M206.25,496.10 V492.10 H349.00 V496.10" stroke="#777" stroke-width="1" fill="none"/>
<circle cx="277.80" cy="487.60" r="1.15" fill="#2a2a2a"/>
<path d="M206.25,506.30 V502.30 H301.40 V506.30" stroke="#777" stroke-width="1" fill="none"/>
<circle cx="253.80" cy="497.80" r="1.15" fill="#2a2a2a"/>
<path d="M206.25,516.70 V512.70 H253.60 V516.70" stroke="#777" stroke-width="1" fill="none"/>
<circle cx="228.53" cy="509.80" r="1.15" fill="#2a2a2a"/>
<circle cx="231.68" cy="509.80" r="1.15" fill="#2a2a2a"/>
<path d="M253.60,535.80 V531.80 H267.40 V535.80" stroke="#777" stroke-width="1" fill="none"/>
<circle cx="258.93" cy="528.00" r="1.15" fill="#2a2a2a"/>
<circle cx="262.07" cy="528.00" r="1.15" fill="#2a2a2a"/>
<path d="M301.20,517.80 V513.80 H314.80 V517.80" stroke="#777" stroke-width="1" fill="none"/>
<circle cx="306.43" cy="509.60" r="1.15" fill="#2a2a2a"/>
<circle cx="309.57" cy="509.60" r="1.15" fill="#2a2a2a"/>
<line x1="206.50" y1="553.25" x2="206.50" y2="562.00" stroke="#56275b" stroke-width="1"/>
<line x1="204.70" y1="553.25" x2="208.30" y2="553.25" stroke="#56275b" stroke-width="1"/>
<rect x="202.85" y="562.35" width="7.30" height="50.85" fill="#5b1c5f" stroke="#3f1846" stroke-width="0.7"/>
<line x1="219.12" y1="550.75" x2="219.12" y2="554.50" stroke="#a29ecb" stroke-width="1"/>
<line x1="217.32" y1="550.75" x2="220.93" y2="550.75" stroke="#a29ecb" stroke-width="1"/>
<rect x="215.35" y="554.85" width="7.55" height="58.35" fill="#8e86c4" stroke="#7d7aa6" stroke-width="0.7"/>
<line x1="253.75" y1="589.80" x2="253.75" y2="596.00" stroke="#3f5f88" stroke-width="1"/>
<line x1="251.95" y1="589.80" x2="255.55" y2="589.80" stroke="#3f5f88" stroke-width="1"/>
<rect x="250.35" y="596.35" width="6.80" height="16.85" fill="#1b4c86" stroke="#12345f" stroke-width="0.7"/>
<line x1="266.25" y1="545.20" x2="266.25" y2="558.70" stroke="#45a6dc" stroke-width="1"/>
<line x1="264.45" y1="545.20" x2="268.05" y2="545.20" stroke="#45a6dc" stroke-width="1"/>
<rect x="262.65" y="559.05" width="7.20" height="54.15" fill="#3ca8e2" stroke="#2e8cc4" stroke-width="0.7"/>
<line x1="300.95" y1="580.20" x2="300.95" y2="590.40" stroke="#3f5f88" stroke-width="1"/>
<line x1="299.15" y1="580.20" x2="302.75" y2="580.20" stroke="#3f5f88" stroke-width="1"/>
<rect x="297.65" y="590.75" width="6.60" height="22.45" fill="#1b4c86" stroke="#12345f" stroke-width="0.7"/>
<line x1="314.05" y1="523.10" x2="314.05" y2="540.60" stroke="#45a6dc" stroke-width="1"/>
<line x1="312.25" y1="523.10" x2="315.85" y2="523.10" stroke="#45a6dc" stroke-width="1"/>
<rect x="310.35" y="540.95" width="7.40" height="72.25" fill="#3ca8e2" stroke="#2e8cc4" stroke-width="0.7"/>
<line x1="348.35" y1="577.50" x2="348.35" y2="591.80" stroke="#3f5f88" stroke-width="1"/>
<line x1="346.55" y1="577.50" x2="350.15" y2="577.50" stroke="#3f5f88" stroke-width="1"/>
<rect x="345.35" y="592.15" width="6.00" height="21.05" fill="#1b4c86" stroke="#12345f" stroke-width="0.7"/>
<line x1="361.45" y1="549.80" x2="361.45" y2="567.50" stroke="#45a6dc" stroke-width="1"/>
<line x1="359.65" y1="549.80" x2="363.25" y2="549.80" stroke="#45a6dc" stroke-width="1"/>
<rect x="358.05" y="567.85" width="6.80" height="45.35" fill="#3ca8e2" stroke="#2e8cc4" stroke-width="0.7"/>
</svg></div></body></html>
